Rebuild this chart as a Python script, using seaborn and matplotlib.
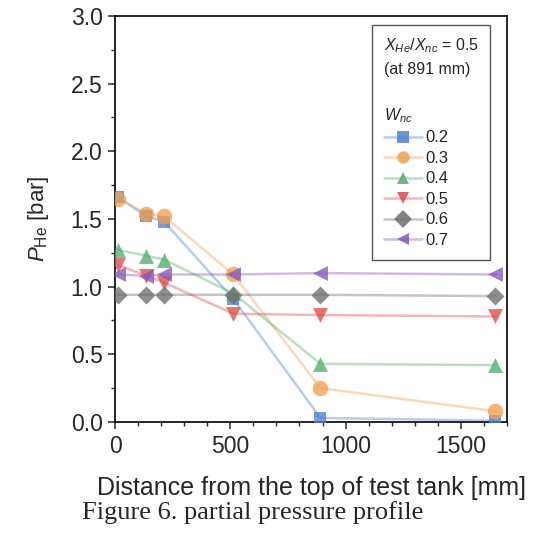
import matplotlib
matplotlib.use("Agg")
import matplotlib.pyplot as plt
from matplotlib.lines import Line2D
from matplotlib.ticker import MultipleLocator
from matplotlib.colors import to_rgba
import seaborn as sns
import pandas as pd

# values
distance = [15, 135, 213, 513, 891, 1650]
w_nc = ["0.2", "0.3", "0.4", "0.5", "0.6", "0.7"]
p_02 = [1.66, 1.52, 1.48, 0.91, 0.03, 0.01]
p_03 = [1.65, 1.54, 1.52, 1.09, 0.25, 0.08]
p_04 = [1.27, 1.23, 1.20, 0.95, 0.43, 0.42]
p_05 = [1.16, 1.08, 1.03, 0.80, 0.79, 0.78]
p_06 = [0.94, 0.94, 0.94, 0.94, 0.94, 0.93]
p_07 = [1.09, 1.08, 1.09, 1.09, 1.10, 1.09]

colors = ["#4f81cf", "#f0a050", "#4fb06a", "#e04a4a", "#6e6e6e", "#8558b8"]
markers = ["s", "o", "^", "v", "D", "<"]
sizes = [85, 125, 115, 115, 85, 115]

series = [p_02, p_03, p_04, p_05, p_06, p_07]
df = pd.concat([pd.DataFrame({"x": distance, "p": vals, "w": w})
                for w, vals in zip(w_nc, series)], ignore_index=True)

sns.set_theme(style="ticks")
plt.rcParams["font.family"] = ["Liberation Sans", "DejaVu Sans"]
plt.rcParams["mathtext.fontset"] = "custom"
plt.rcParams["mathtext.rm"] = "Liberation Sans"
plt.rcParams["mathtext.it"] = "Liberation Sans:italic"

fig = plt.figure(figsize=(5.36, 5.42), dpi=100)
ax = fig.add_axes([0.2146, 0.2214, 0.7313, 0.7491])

pal = dict(zip(w_nc, colors))
sns.lineplot(data=df, x="x", y="p", hue="w", palette=pal, lw=1.8,
             alpha=0.4, legend=False, ax=ax, sort=False)
for w, m, s in zip(w_nc, markers, sizes):
    sub = df[df["w"] == w]
    sns.scatterplot(data=sub, x="x", y="p", color=pal[w], marker=m, s=s,
                    alpha=0.78, linewidth=0, legend=False, ax=ax, zorder=3)

ax.set_xlim(0, 1700)
ax.set_ylim(0, 3.0)
ax.xaxis.set_major_locator(MultipleLocator(500))
ax.xaxis.set_minor_locator(MultipleLocator(100))
ax.yaxis.set_major_locator(MultipleLocator(0.5))
ax.yaxis.set_minor_locator(MultipleLocator(0.25))
ax.yaxis.set_major_formatter(matplotlib.ticker.FormatStrFormatter("%.1f"))
ax.tick_params(which="major", direction="out", length=5, width=1.1, labelsize=16.5, pad=4)
ax.tick_params(which="minor", direction="out", length=3, width=1.0)
for sp in ax.spines.values():
    sp.set_linewidth(1.2)
    sp.set_color("black")

ax.set_xlabel("Distance from the top of test tank [mm]", fontsize=18, labelpad=13)
ax.set_ylabel(r"$P_{\mathrm{He}}$ [bar]", fontsize=16, labelpad=14)

handles = []
for c, m in zip(colors, markers):
    handles.append(Line2D([0], [0], color=to_rgba(c, 0.4), lw=1.8, marker=m,
                          markersize=9, markerfacecolor=to_rgba(c, 0.85),
                          markeredgewidth=0))
leg = ax.legend(handles, w_nc,
                title="$X_{He}/X_{nc}$ = 0.5\n(at 891 mm)\n\n$W_{nc}$",
                loc="upper right", bbox_to_anchor=(0.957, 0.978),
                borderaxespad=0, fontsize=12, title_fontsize=11.5,
                frameon=True, fancybox=False, handlelength=2.3,
                handletextpad=0.2, labelspacing=0.33, borderpad=0.7)
leg._legend_box.align = "left"
leg.get_title().set_linespacing(1.55)
leg.get_frame().set_edgecolor("#555555")
leg.get_frame().set_linewidth(1.0)
leg.get_frame().set_alpha(1)

fig.text(0.153, 0.055, "Figure 6. partial pressure profile",
         family=["Liberation Serif", "DejaVu Serif"], fontsize=19,
         ha="left", va="center")

fig.savefig("out.png", dpi=100, facecolor="white")
